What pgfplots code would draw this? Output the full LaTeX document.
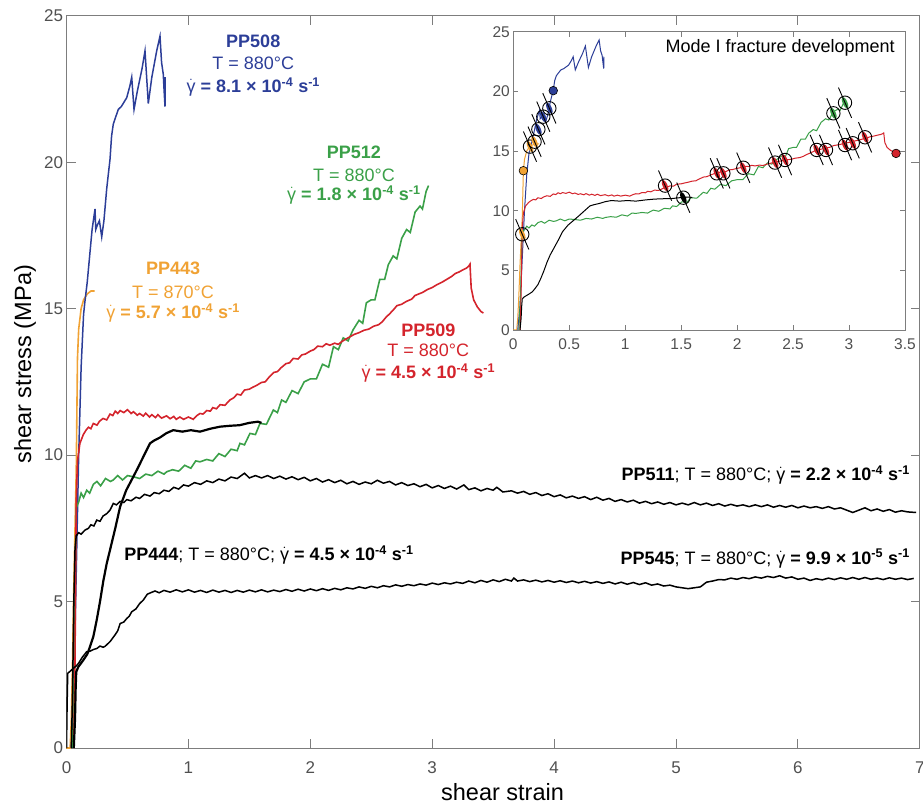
\documentclass[border=0pt]{standalone}
\usepackage{fontspec}
\setmainfont{Liberation Sans}
\usepackage{pgfplots}
\usepackage{pgfplotstable}
\pgfplotsset{compat=1.18}
\usetikzlibrary{calc}
\definecolor{cblue}{RGB}{44,62,152}
\definecolor{cgreen}{RGB}{58,160,72}
\definecolor{cred}{RGB}{212,36,44}
\definecolor{corange}{RGB}{240,162,52}
\definecolor{axgray}{RGB}{125,125,125}
\definecolor{tkgray}{RGB}{80,80,80}
\newcommand\annotfont{\fontsize{18}{21}\selectfont}
\newcommand\gd{\ensuremath{\dot{\mbox{\normalfont γ}}}}

\pgfdeclareplotmark{frac}{%
  \pgfscope
  \pgftransformrotate{23.5}%
  \pgfpathellipse{\pgfpointorigin}{\pgfqpoint{2.4pt}{0pt}}{\pgfqpoint{0pt}{6.2pt}}%
  \pgfusepath{fill}%
  \pgfpathcircle{\pgfpointorigin}{6.7pt}%
  \pgfusepath{stroke}%
  \pgfpathmoveto{\pgfqpoint{0pt}{-16.5pt}}%
  \pgfpathlineto{\pgfqpoint{0pt}{16.5pt}}%
  \pgfusepath{stroke}%
  \endpgfscope
}

\pgfplotstableread{
x y
0.04 0
0.06 2
0.08 6
0.10 10
0.12 13
0.14 14.8
0.15 15.2
0.17 15.9
0.19 16.8
0.21 17.7
0.234 18.4
0.24 17.7
0.253 17.85
0.27 18.0
0.289 17.45
0.307 18.0
0.33 19.1
0.357 20.1
0.37 20.9
0.384 21.3
0.40 21.5
0.425 21.8
0.45 21.9
0.494 22.2
0.52 22.6
0.535 22.9
0.554 21.8
0.58 22.4
0.62 23.2
0.644 23.8
0.671 22.0
0.70 22.9
0.74 23.8
0.767 24.3
0.78 23.4
0.794 23.0
0.80 22.5
0.808 21.9
0.81 22.9
}\tblue

\pgfplotstableread{
x y
0 0
0.03 0
0.04 1
0.05 3
0.06 5.5
0.07 7.5
0.08 9.5
0.09 13.3
0.10 14.3
0.12 15.0
0.14 15.3
0.17 15.5
0.20 15.6
0.23 15.6
}\torange

\pgfplotstableread{
x y
0.05 0
0.065 3
0.075 7
0.08 8.2
0.10 8.4
0.12 8.7
0.14 8.55
0.166 8.8
0.19 8.7
0.22 9.0
0.25 9.1
0.28 8.95
0.32 9.2
0.36 9.1
0.384 9.15
0.42 9.3
0.46 9.15
0.50 9.3
0.548 9.26
0.6 9.2
0.65 9.35
0.7 9.3
0.75 9.45
0.8 9.35
0.822 9.43
0.87 9.5
0.92 9.45
0.97 9.65
1.02 9.55
1.06 9.8
1.095 9.77
1.15 9.85
1.2 9.8
1.25 10.05
1.3 9.95
1.35 10.2
1.4 10.15
1.423 10.4
1.46 10.35
1.505 10.74
1.55 10.7
1.587 11.08
1.64 11.05
1.697 11.54
1.73 11.45
1.765 11.88
1.8 11.8
1.85 12.2
1.9 12.1
1.95 12.5
2.0 12.6
2.05 12.6
2.1 13.1
2.15 13.0
2.19 13.7
2.23 13.6
2.27 14.0
2.31 13.9
2.35 14.27
2.4 14.6
2.43 14.5
2.46 15.2
2.5 15.3
2.53 15.3
2.57 16.0
2.61 16.0
2.64 16.5
2.68 16.8
2.71 16.7
2.75 17.4
2.79 17.7
2.82 17.6
2.86 18.3
2.9 18.5
2.92 18.4
2.95 19.0
2.97 19.2
}\tgreen

\pgfplotstableread{
x y
0.06 0
0.07 3
0.075 6
0.08 8.5
0.09 9.8
0.11 10.4
0.138 10.7
0.16 10.85
0.18 10.95
0.2 10.9
0.22 11.08
0.25 11.02
0.27 11.15
0.3 11.25
0.33 11.2
0.357 11.4
0.38 11.35
0.40 11.5
0.42 11.42
0.44 11.52
0.47 11.45
0.5 11.55
0.53 11.42
0.55 11.48
0.58 11.36
0.6 11.42
0.63 11.33
0.65 11.43
0.68 11.3
0.7 11.38
0.73 11.28
0.75 11.38
0.78 11.26
0.82 11.34
0.85 11.24
0.88 11.32
0.9 11.22
0.93 11.3
0.96 11.22
1.0 11.3
1.04 11.22
1.07 11.35
1.095 11.42
1.12 11.4
1.15 11.52
1.18 11.5
1.2 11.62
1.23 11.58
1.26 11.72
1.3 11.7
1.34 11.88
1.37 11.95
1.4 12.08
1.43 12.05
1.46 12.22
1.5 12.25
1.53 12.32
1.56 12.38
1.6 12.48
1.63 12.5
1.66 12.65
1.7 12.82
1.73 12.85
1.76 12.98
1.8 13.12
1.83 13.15
1.86 13.3
1.9 13.28
1.93 13.42
1.96 13.45
2.0 13.55
2.03 13.6
2.06 13.72
2.1 13.7
2.13 13.8
2.16 13.75
2.2 13.82
2.23 13.78
2.26 13.88
2.3 13.98
2.33 14.05
2.36 14.12
2.4 14.18
2.44 14.26
2.48 14.3
2.52 14.4
2.56 14.45
2.59 14.55
2.62 14.7
2.65 14.82
2.68 14.95
2.71 15.1
2.75 15.15
2.79 15.25
2.83 15.32
2.86 15.45
2.89 15.5
2.92 15.55
2.96 15.65
3.0 15.72
3.04 15.82
3.08 15.9
3.12 16.0
3.16 16.1
3.19 16.2
3.22 16.25
3.25 16.32
3.28 16.38
3.3 16.45
3.31 16.52
3.315 16.1
3.32 15.7
3.34 15.3
3.37 15.06
3.40 14.9
3.42 14.85
}\tred

\pgfplotstableread{
x y
0.06 0
0.07 1.0
0.075 2.0
0.08 2.6
0.097 2.77
0.138 3.0
0.17 3.2
0.193 3.46
0.22 3.8
0.248 4.37
0.275 5.0
0.302 5.7
0.33 6.3
0.357 6.76
0.40 7.5
0.44 8.24
0.49 8.8
0.548 9.26
0.59 9.6
0.63 9.94
0.685 10.4
0.72 10.5
0.767 10.6
0.82 10.75
0.876 10.85
0.95 10.8
1.02 10.85
1.095 10.8
1.18 10.9
1.26 10.97
1.34 11.0
1.42 11.02
1.5 11.1
1.57 11.14
1.6 11.1
}\tblack

\pgfplotstableread{
x y
0.04 0
0.05 2.0
0.06 5.0
0.07 6.8
0.08 7.25
0.10 7.35
0.12 7.3
0.152 7.44
0.18 7.5
0.20 7.62
0.225 7.58
0.248 7.78
0.275 7.74
0.30 7.92
0.33 8.0
0.357 8.12
0.384 8.35
0.41 8.3
0.44 8.42
0.47 8.38
0.494 8.48
0.53 8.44
0.57 8.56
0.60 8.52
0.64 8.66
0.685 8.6
0.72 8.72
0.76 8.68
0.80 8.8
0.84 8.76
0.88 8.9
0.92 8.84
0.96 8.98
1.0 8.94
1.05 9.06
1.10 9.0
1.15 9.12
1.2 9.06
1.25 9.18
1.3 9.12
1.35 9.25
1.4 9.2
1.46 9.38
1.5 9.22
1.55 9.3
1.6 9.22
1.65 9.3
1.7 9.2
1.75 9.28
1.8 9.18
1.85 9.26
1.9 9.16
1.95 9.24
2.0 9.12
2.05 9.2
2.1 9.08
2.15 9.16
2.2 9.06
2.25 9.14
2.3 9.02
2.35 9.1
2.4 9.0
2.45 9.08
2.5 9.02
2.55 9.14
2.6 9.04
2.65 9.1
2.7 8.98
2.75 9.06
2.8 8.96
2.85 9.02
2.9 8.92
2.95 9.0
3.0 8.88
3.05 8.96
3.1 8.86
3.15 8.94
3.2 8.84
3.26 8.98
3.3 8.82
3.35 8.88
3.4 8.78
3.45 8.86
3.5 8.8
3.53 8.9
3.58 8.74
3.65 8.78
3.7 8.7
3.75 8.76
3.8 8.66
3.85 8.72
3.9 8.62
3.95 8.68
4.0 8.58
4.05 8.64
4.1 8.54
4.15 8.6
4.2 8.52
4.25 8.58
4.3 8.48
4.35 8.56
4.4 8.46
4.45 8.52
4.5 8.42
4.55 8.48
4.6 8.4
4.65 8.46
4.7 8.36
4.75 8.42
4.8 8.34
4.85 8.4
4.9 8.32
4.95 8.38
5.0 8.3
5.05 8.36
5.1 8.3
5.15 8.38
5.2 8.3
5.25 8.36
5.3 8.28
5.35 8.34
5.4 8.26
5.45 8.32
5.5 8.26
5.55 8.3
5.6 8.24
5.65 8.3
5.7 8.24
5.75 8.3
5.8 8.22
5.85 8.28
5.9 8.22
5.95 8.28
6.0 8.2
6.05 8.26
6.1 8.2
6.15 8.24
6.2 8.18
6.25 8.24
6.3 8.16
6.35 8.2
6.4 8.12
6.45 8.04
6.5 8.12
6.55 8.2
6.6 8.1
6.65 8.16
6.7 8.08
6.75 8.14
6.8 8.05
6.85 8.1
6.9 8.06
6.97 8.04
}\tppfive

\pgfplotstableread{
x y
0 0
0.005 1.5
0.01 2.55
0.03 2.62
0.056 2.72
0.08 2.8
0.1 2.9
0.13 3.1
0.166 3.29
0.19 3.3
0.22 3.36
0.25 3.4
0.275 3.48
0.3 3.44
0.316 3.47
0.357 3.63
0.398 3.86
0.42 4.0
0.44 4.25
0.47 4.3
0.494 4.42
0.515 4.5
0.535 4.65
0.57 4.75
0.6 4.93
0.63 5.05
0.663 5.25
0.69 5.3
0.726 5.36
0.76 5.3
0.8 5.38
0.85 5.32
0.9 5.4
0.95 5.33
1.0 5.4
1.05 5.32
1.1 5.38
1.15 5.31
1.2 5.39
1.25 5.32
1.3 5.38
1.35 5.31
1.4 5.38
1.45 5.32
1.5 5.39
1.55 5.33
1.6 5.4
1.65 5.33
1.7 5.39
1.75 5.34
1.8 5.41
1.85 5.35
1.9 5.42
1.95 5.36
2.0 5.43
2.05 5.37
2.1 5.44
2.15 5.38
2.2 5.45
2.25 5.4
2.3 5.47
2.35 5.43
2.4 5.5
2.45 5.45
2.5 5.52
2.55 5.47
2.6 5.54
2.65 5.5
2.7 5.57
2.75 5.52
2.8 5.58
2.85 5.54
2.9 5.6
2.95 5.56
3.0 5.63
3.05 5.58
3.1 5.64
3.15 5.6
3.2 5.66
3.25 5.62
3.3 5.7
3.35 5.64
3.4 5.72
3.45 5.66
3.5 5.74
3.55 5.68
3.6 5.76
3.65 5.7
3.67 5.8
3.7 5.7
3.75 5.74
3.8 5.68
3.85 5.73
3.9 5.67
3.95 5.72
4.0 5.66
4.05 5.71
4.1 5.65
4.15 5.7
4.2 5.64
4.25 5.69
4.3 5.63
4.35 5.68
4.4 5.62
4.45 5.67
4.5 5.6
4.55 5.66
4.6 5.59
4.65 5.65
4.7 5.58
4.75 5.64
4.8 5.56
4.85 5.6
4.9 5.53
4.95 5.56
5.0 5.5
5.05 5.47
5.1 5.44
5.15 5.47
5.2 5.5
5.25 5.66
5.3 5.7
5.35 5.75
5.4 5.74
5.45 5.8
5.5 5.76
5.55 5.82
5.6 5.78
5.65 5.84
5.7 5.8
5.75 5.86
5.8 5.82
5.85 5.88
5.9 5.8
5.95 5.84
6.0 5.76
6.05 5.8
6.1 5.72
6.15 5.78
6.2 5.74
6.25 5.8
6.3 5.75
6.35 5.81
6.4 5.76
6.45 5.82
6.5 5.76
6.55 5.82
6.6 5.76
6.65 5.8
6.7 5.75
6.75 5.81
6.8 5.76
6.85 5.8
6.9 5.75
6.95 5.79
}\tppsix

\begin{document}
\begin{tikzpicture}
\begin{axis}[name=main, at={(0pt,0pt)}, anchor=south west,
  width=853.3pt, height=732.3pt, scale only axis,
  xmin=0, xmax=7, ymin=0, ymax=25,
  xtick={0,1,2,3,4,5,6,7}, ytick={0,5,10,15,20,25},
  tick align=inside, tick pos=both, major tick length=9pt,
  axis line style={axgray, line width=0.9pt},
  major tick style={axgray, line width=0.9pt},
  tick label style={font=\fontsize{17}{17}\selectfont, text=tkgray},
  /pgf/number format/assume math mode=true,
  xticklabel style={yshift=-10pt},
  xlabel={shear strain}, ylabel={shear stress (MPa)},
  label style={font=\fontsize{23.5}{26}\selectfont},
  xlabel style={at={(axis description cs:0.511,0)}, anchor=base, yshift=-52pt},
  ylabel style={at={(axis description cs:-0.0416,0.524)}, anchor=base},
  clip mode=individual,
]
\addplot[corange, line width=1.6pt] table {\torange};
\addplot[cblue, line width=1.5pt] table {\tblue};
\addplot[cgreen, line width=1.6pt] table {\tgreen};
\addplot[cred, line width=1.6pt] table {\tred};
\addplot[black, line width=1.5pt] table {\tppfive};
\addplot[black, line width=1.5pt] table {\tppsix};
\addplot[black, line width=2.2pt] table {\tblack};

\node[text=cblue, font=\annotfont\bfseries] at (axis cs:1.532,24.14) {PP508};
\node[text=cblue, font=\annotfont] at (axis cs:1.532,23.37) {T = 880°C};
\node[text=cblue, font=\annotfont] at (axis cs:1.532,22.57) {\gd\ \textbf{= 8.1 × 10\textsuperscript{-4} s\textsuperscript{-1}}};

\node[text=corange, font=\annotfont\bfseries] at (axis cs:0.874,16.37) {PP443};
\node[text=corange, font=\annotfont] at (axis cs:0.874,15.57) {T = 870°C};
\node[text=corange, font=\annotfont] at (axis cs:0.874,14.85) {\gd\ \textbf{= 5.7 × 10\textsuperscript{-4} s\textsuperscript{-1}}};

\node[text=cgreen, font=\annotfont\bfseries] at (axis cs:2.358,20.32) {PP512};
\node[text=cgreen, font=\annotfont] at (axis cs:2.358,19.56) {T = 880°C};
\node[text=cgreen, font=\annotfont] at (axis cs:2.358,18.87) {\gd\ \textbf{= 1.8 × 10\textsuperscript{-4} s\textsuperscript{-1}}};

\node[text=cred, font=\annotfont\bfseries] at (axis cs:2.968,14.27) {PP509};
\node[text=cred, font=\annotfont] at (axis cs:2.968,13.56) {T = 880°C};
\node[text=cred, font=\annotfont] at (axis cs:2.968,12.79) {\gd\ \textbf{= 4.5 × 10\textsuperscript{-4} s\textsuperscript{-1}}};

\node[anchor=east, font=\annotfont] at (axis cs:6.947,9.32) {\textbf{PP511}; T = 880°C; \gd\ \textbf{= 2.2 × 10\textsuperscript{-4} s\textsuperscript{-1}}};
\node[anchor=east, font=\annotfont] at (axis cs:6.947,6.47) {\textbf{PP545}; T = 880°C; \gd\ \textbf{= 9.9 × 10\textsuperscript{-5} s\textsuperscript{-1}}};
\node[anchor=west, font=\annotfont] at (axis cs:0.445,6.59) {\textbf{PP444}; T = 880°C; \gd\ \textbf{= 4.5 × 10\textsuperscript{-4} s\textsuperscript{-1}}};
\end{axis}

\begin{axis}[name=inset, at={($(main.south west)+(446.8pt,418pt)$)}, anchor=south west,
  width=391.7pt, height=298.3pt, scale only axis,
  xmin=0, xmax=3.5, ymin=0, ymax=25,
  xtick={0,0.5,1,1.5,2,2.5,3,3.5}, ytick={0,5,10,15,20,25},
  tick align=inside, tick pos=both, major tick length=5pt,
  axis background/.style={fill=white},
  axis line style={axgray, line width=0.8pt},
  major tick style={axgray, line width=0.8pt},
  tick label style={font=\fontsize{15.5}{15.5}\selectfont, text=tkgray},
  /pgf/number format/assume math mode=true,
  xticklabel style={yshift=-5pt},
  clip mode=individual,
]
\addplot[corange, line width=1pt] table {\torange};
\addplot[cblue, line width=1pt] table {\tblue};
\addplot[cgreen, line width=1pt] table {\tgreen};
\addplot[cred, line width=1pt] table {\tred};
\addplot[black, line width=1pt] table {\tblack};

\addplot[only marks, mark=frac, mark options={draw=black, fill=corange, line width=0.9pt}] coordinates {(0.08,8.02) (0.149,15.37) (0.19,15.78)};
\addplot[only marks, mark=frac, mark options={draw=black, fill=cblue, line width=0.9pt}] coordinates {(0.224,16.82) (0.268,17.88) (0.322,18.58)};
\addplot[only marks, mark=frac, mark options={draw=black, fill=cred, line width=0.9pt}] coordinates {(1.356,12.1) (1.818,13.13) (1.877,13.13) (2.055,13.6) (2.339,14.03) (2.428,14.25) (2.711,15.09) (2.794,15.09) (2.964,15.5) (3.033,15.65) (3.143,16.15)};
\addplot[only marks, mark=frac, mark options={draw=black, fill=cgreen, line width=0.9pt}] coordinates {(2.86,18.16) (2.964,19.05)};
\addplot[only marks, mark=frac, mark options={draw=black, fill=black, line width=0.9pt}] coordinates {(1.519,11.09)};

\addplot[only marks, mark=*, mark size=4.3pt, mark options={draw=black, fill=cblue, line width=0.6pt}] coordinates {(0.357,20.06)};
\addplot[only marks, mark=*, mark size=4.3pt, mark options={draw=black, fill=corange, line width=0.6pt}] coordinates {(0.09,13.35)};
\addplot[only marks, mark=*, mark size=4.3pt, mark options={draw=black, fill=cred, line width=0.6pt}] coordinates {(3.42,14.8)};

\node[anchor=east, font=\fontsize{18}{20}\selectfont] at (axis cs:3.44,23.61) {Mode I fracture development};
\end{axis}

\pgfresetboundingbox
\useasboundingbox ($(main.south west)+(-66.5pt,-58pt)$) rectangle ($(main.north east)+(3.2pt,15.7pt)$);
\end{tikzpicture}
\end{document}
